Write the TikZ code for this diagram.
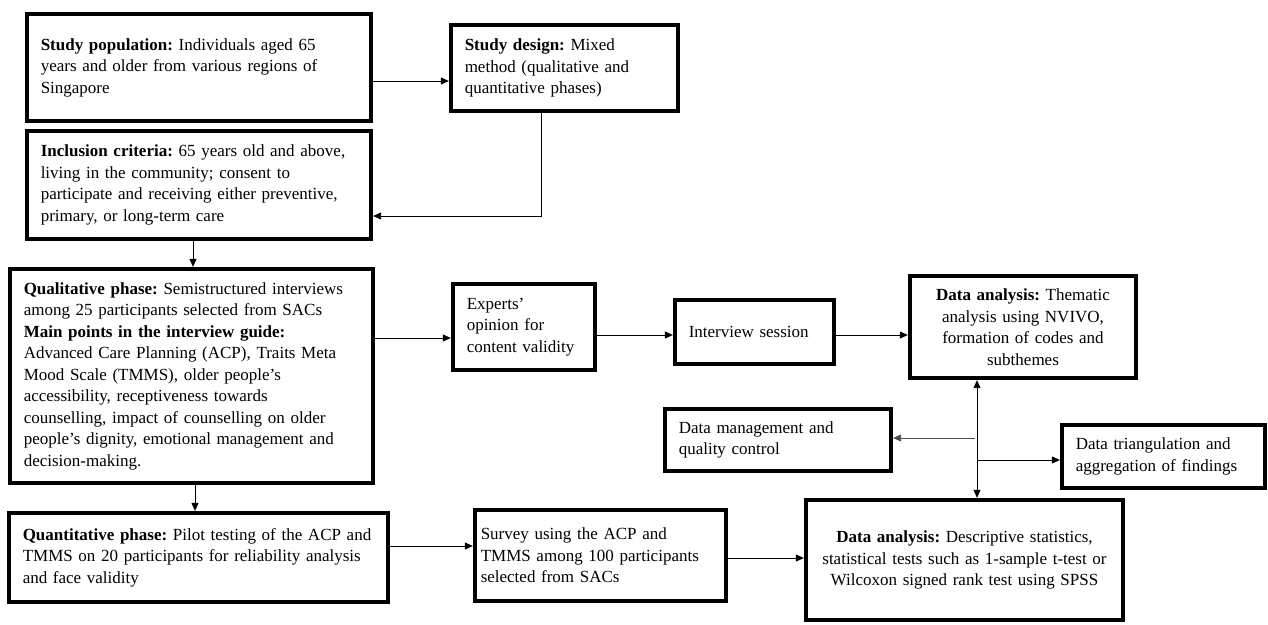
\documentclass[tikz,border=0pt]{standalone}
\usepackage{fontspec}
\setmainfont{Liberation Serif}
\usetikzlibrary{arrows.meta}

\begin{document}
\begin{tikzpicture}[x=1pt, y=-1pt,
  >={Triangle[length=8pt,width=7pt]},
  box/.style={draw, line width=3.8pt, fill=white, inner xsep=14pt, inner ysep=0pt,
    align=left, font=\fontsize{17}{21.5}\selectfont\frenchspacing},
  link/.style={->, line width=0.9pt}]
  \useasboundingbox (0,0) rectangle (1268,624);

  % Study set-up
  \node[box, text width=316.5pt, minimum height=107.5pt] (pop) at (199,67.5)
    {\textbf{Study population:} Individuals aged 65\\ years and older from various regions of\\ Singapore};
  \node[box, text width=199.5pt, minimum height=86.5pt] (design) at (564.5,68)
    {\textbf{Study design:} Mixed\\ method (qualitative and\\ quantitative phases)};
  \node[box, text width=316.5pt, minimum height=108.5pt] (incl) at (199,185)
    {\textbf{Inclusion criteria:} 65 years old and above,\\ living in the community; consent to\\ participate and receiving either preventive,\\ primary, or long-term care};

  % Qualitative branch
  \node[box, text width=335.5pt, minimum height=214.5pt] (qual) at (191.5,376)
    {\textbf{Qualitative phase:} Semistructured interviews\\ among 25 participants selected from SACs\\
     \textbf{Main points in the interview guide:}\\ Advanced Care Planning (ACP), Traits Meta\\
     Mood Scale (TMMS), older people’s\\ accessibility, receptiveness towards\\
     counselling, impact of counselling on older\\ people’s dignity, emotional management and\\ decision-making.};
  \node[box, text width=114.5pt, minimum height=86.5pt] (experts) at (524,327)
    {Experts’\\ opinion for\\ content validity};
  \node[box, text width=131.5pt, minimum height=64.5pt] (interview) at (754.5,332)
    {Interview session};
  \node[box, text width=198.5pt, minimum height=102.5pt, align=center] (thematic) at (1023,327)
    {\textbf{Data analysis:} Thematic\\ analysis using NVIVO,\\ formation of codes and\\ subthemes};
  \node[box, text width=198.5pt, minimum height=62.5pt] (manage) at (778,440)
    {Data management and\\ quality control};
  \node[box, text width=175.5pt, minimum height=63.5pt] (triang) at (1163.5,456.5)
    {Data triangulation and\\ aggregation of findings};

  % Quantitative branch
  \node[box, text width=351.5pt, minimum height=89.5pt] (quant) at (198.5,557.5)
    {\textbf{Quantitative phase:} Pilot testing of the ACP and\\ TMMS on 20 participants for reliability analysis\\ and face validity};
  \node[box, inner xsep=6pt, text width=239.5pt, minimum height=91.5pt] (survey) at (600.5,555.5)
    {Survey using the ACP and\\ TMMS among 100 participants\\ selected from SACs};
  \node[box, text width=289.5pt, minimum height=120.5pt, align=center] (stats) at (964.5,560)
    {\textbf{Data analysis:} Descriptive statistics,\\ statistical tests such as 1-sample t-test or\\ Wilcoxon signed rank test using SPSS};

  % Connectors
  \draw[link] (pop.east |- 0,81) -- (design.west |- 0,81);
  \draw[link] (design.south -| 541,0) |- (incl.east |- 0,216);
  \draw[link] (incl.south -| 193,0) -- (qual.north -| 193,0);
  \draw[link] (qual.east |- 0,338) -- (experts.west |- 0,338);
  \draw[link] (experts.east |- 0,335) -- (interview.west |- 0,335);
  \draw[link] (interview.east |- 0,335) -- (thematic.west |- 0,335);
  \draw[link] (qual.south -| 195,0) -- (quant.north -| 195,0);
  \draw[link] (quant.east |- 0,546) -- (survey.west |- 0,546);
  \draw[link] (survey.east |- 0,558) -- (stats.west |- 0,558);
  \draw[link, <->] (thematic.south -| 977,0) -- (stats.north -| 977,0);
  \coordinate (split1) at (975,438);
  \coordinate (split2) at (977,460);
  \draw[link, black!70] (split1) -- (manage.east |- split1);
  \draw[link] (split2) -- (triang.west |- split2);
\end{tikzpicture}
\end{document}
